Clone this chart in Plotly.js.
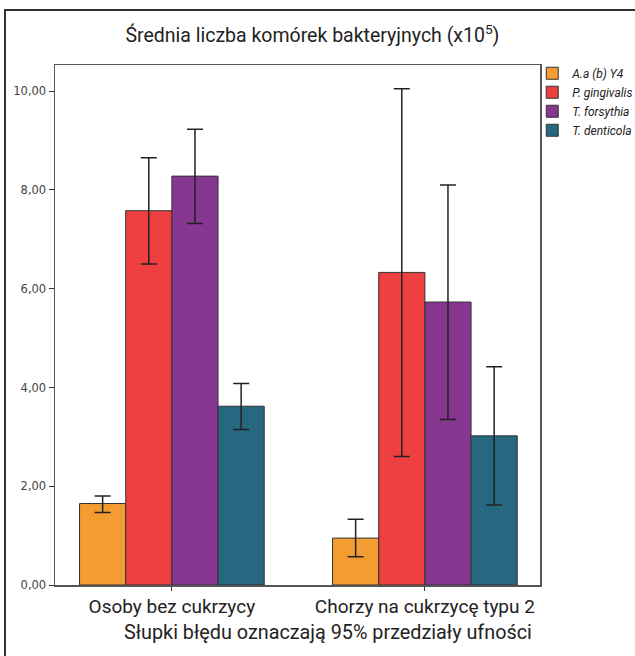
<!DOCTYPE html>
<html>
<head>
<meta charset="utf-8">
<script src="https://cdn.plot.ly/plotly-3.0.1.min.js"></script>
<style>
html,body{margin:0;padding:0;background:#fff;}
#wrap{position:relative;width:635px;height:656px;overflow:hidden;}
#frame{position:absolute;left:4px;top:9px;width:700px;height:700px;border-left:2px solid #333;border-top:2px solid #333;pointer-events:none;z-index:5;}
#chart{position:absolute;left:0;top:0;width:635px;height:656px;}
</style>
</head>
<body>
<div id="wrap"><div id="chart"></div><div id="frame"></div></div>
<script>
const categories = ["Osoby bez cukrzycy", "Chorzy na cukrzycę typu 2"];
const seriesNames = ["A.a (b) Y4", "P. gingivalis", "T. forsythia", "T. denticola"];
const meanAa = [1.65, 0.95];
const meanPg = [7.58, 6.33];
const meanTf = [8.28, 5.73];
const meanTd = [3.62, 3.02];
const upperAa = [1.80, 1.33];
const upperPg = [8.65, 10.05];
const upperTf = [9.23, 8.10];
const upperTd = [4.08, 4.42];
const lowerAa = [1.47, 0.57];
const lowerPg = [6.50, 2.60];
const lowerTf = [7.32, 3.35];
const lowerTd = [3.15, 1.62];
const colors = ["#F39C32", "#EE4040", "#86378F", "#256880"];

const means = [meanAa, meanPg, meanTf, meanTd];
const uppers = [upperAa, upperPg, upperTf, upperTd];
const lowers = [lowerAa, lowerPg, lowerTf, lowerTd];

const traces = means.map((m, i) => ({
  type: "bar",
  name: seriesNames[i],
  x: categories,
  y: m,
  marker: {color: colors[i], line: {color: "#333", width: 1}},
  error_y: {
    type: "data", symmetric: false,
    array: m.map((v, j) => uppers[i][j] - v),
    arrayminus: m.map((v, j) => v - lowers[i][j]),
    color: "#222", thickness: 1.5, width: 8
  },
  hoverinfo: "none"
}));

const font = "Roboto, 'Liberation Sans', Arial, sans-serif";
const layout = {
  width: 635, height: 656,
  margin: {l: 55, r: 95, t: 65, b: 71, autoexpand: false},
  paper_bgcolor: "#fff", plot_bgcolor: "#fff",
  barmode: "group", bargap: 0.27, bargroupgap: 0,
  separators: ",.",
  title: {
    text: "Średnia liczba komórek bakteryjnych (x10<sup>5</sup>)",
    font: {family: font, size: 19.5, color: "#222"},
    xref: "container", yref: "container", x: 0.492, y: 1 - 35/656,
    xanchor: "center", yanchor: "middle"
  },
  xaxis: {
    type: "category", range: [-0.462, 1.455],
    showline: true, linecolor: "#555", linewidth: 1.5, mirror: true,
    ticks: "outside", ticklen: 4, tickcolor: "#333",
    tickfont: {family: font, size: 19, color: "#222"},
    showgrid: false, zeroline: false
  },
  yaxis: {
    range: [0, 10.53],
    tickvals: [0, 2, 4, 6, 8, 10], tickformat: ".2f",
    showline: true, linecolor: "#555", linewidth: 1.5, mirror: true,
    ticks: "outside", ticklen: 5, tickcolor: "#333",
    tickfont: {family: "'DejaVu Sans', Verdana, sans-serif", size: 11.5, color: "#444"},
    showgrid: false, zeroline: false
  },
  legend: {
    x: 0.984, xanchor: "left", y: 1.012, yanchor: "top",
    font: {family: font, size: 12, color: "#222", style: "italic"},
    bgcolor: "rgba(0,0,0,0)", tracegroupgap: 0, itemwidth: 30
  },
  annotations: [{
    text: "Słupki błędu oznaczają 95% przedziały ufności",
    xref: "paper", yref: "paper", x: 0.563, y: -0.092,
    xanchor: "center", yanchor: "middle", showarrow: false,
    font: {family: font, size: 19.8, color: "#222"}
  }],
  showlegend: true
};

Plotly.newPlot("chart", traces, layout, {displayModeBar: false, staticPlot: true});
</script>
</body>
</html>
